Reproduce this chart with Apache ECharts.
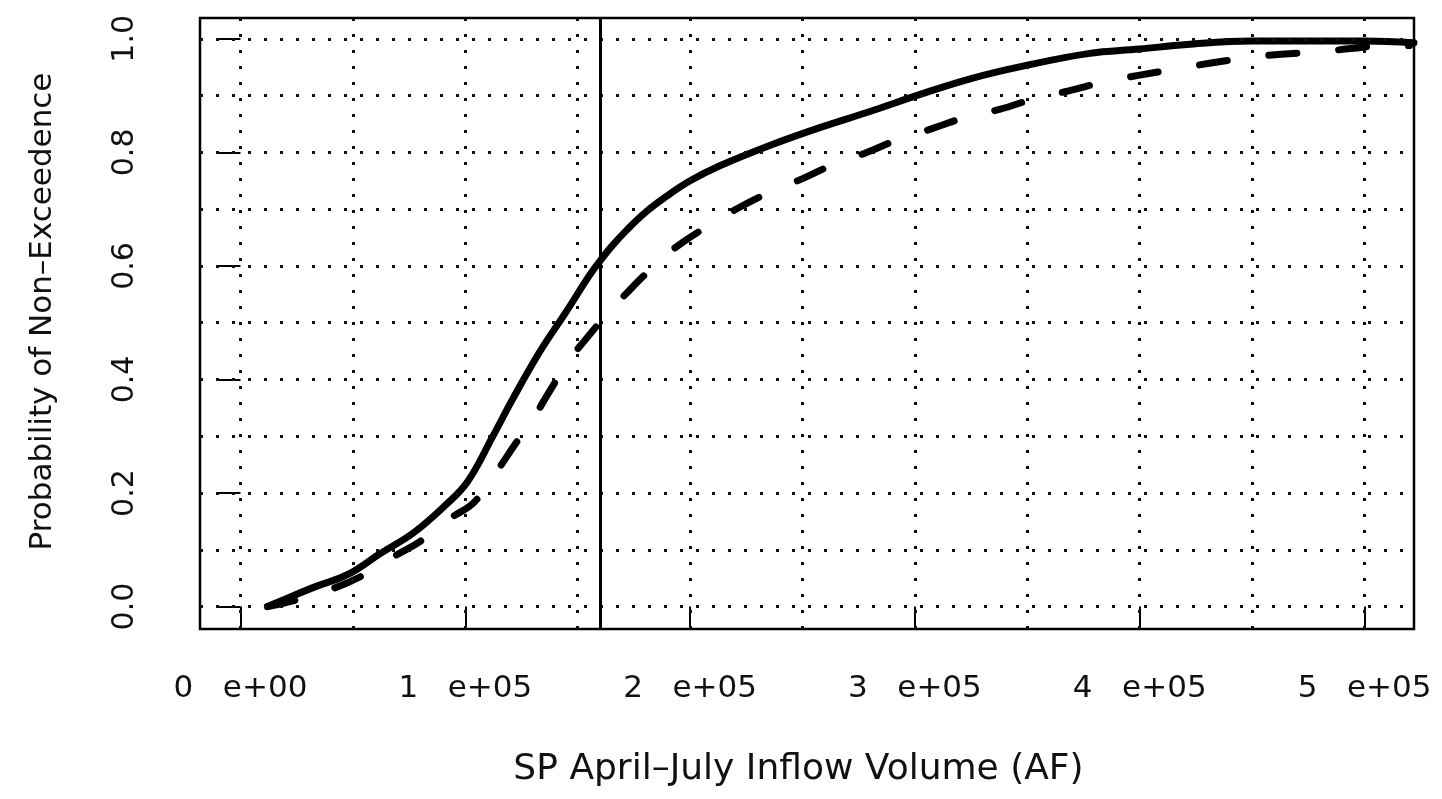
<!DOCTYPE html>
<html>
<head>
<meta charset="utf-8">
<title>SP April-July Inflow Volume</title>
<script src="https://cdn.jsdelivr.net/npm/echarts@6/dist/echarts.min.js"></script>
<style>
  html, body { margin: 0; padding: 0; background: #fff; }
  #main { width: 1442px; height: 799px; }
</style>
</head>
<body>
<div id="main"></div>
<script>
// tick positions and their labels
var xTicks = [0, 100000, 200000, 300000, 400000, 500000];
var xTickLabels = ['0   e+00', '1   e+05', '2   e+05', '3   e+05', '4   e+05', '5   e+05'];
var yTicks = [0, 0.2, 0.4, 0.6, 0.8, 1.0];
var yTickLabels = ['0.0', '0.2', '0.4', '0.6', '0.8', '1.0'];

// dotted reference grid
var xGrid = [0, 50000, 100000, 150000, 200000, 250000, 300000, 350000, 400000, 450000, 500000];
var yGrid = [0, 0.1, 0.2, 0.3, 0.4, 0.5, 0.6, 0.7, 0.8, 0.9, 1.0];

// vertical marker
var threshold = 160000;

// solid curve
var solidX = [12000, 24000, 34000, 48000, 62000, 77000, 91000, 101000, 112000, 121000, 133000, 145000,
              155000, 160000, 165000, 172000, 180000, 190000, 200000, 213000, 236000, 258000, 280000,
              303000, 325000, 347000, 377000, 400000, 421000, 450000, 500000, 522000];
var solidY = [0.0, 0.02, 0.036, 0.057, 0.093, 0.13, 0.178, 0.22, 0.298, 0.365, 0.448, 0.52,
              0.582, 0.609, 0.634, 0.664, 0.694, 0.724, 0.75, 0.776, 0.813, 0.844, 0.872,
              0.903, 0.93, 0.951, 0.974, 0.982, 0.99, 0.996, 0.996, 0.993];

// dashed curve
var dashX = [12000, 25000, 42000, 54000, 69000, 80000, 94000, 104000, 114500, 122000, 130000, 137000,
             146000, 153000, 163000, 172000, 184000, 194000, 209000, 220000, 236000, 249000, 265000,
             278000, 294000, 307000, 325000, 338000, 355000, 368000, 385000, 400000, 416000, 431000,
             448000, 463000, 480000, 494000, 512000, 520000];
var dashY = [0.0, 0.012, 0.033, 0.054, 0.09, 0.115, 0.157, 0.184, 0.241, 0.285, 0.33, 0.376,
             0.433, 0.468, 0.515, 0.553, 0.6, 0.634, 0.673, 0.699, 0.731, 0.752, 0.781,
             0.799, 0.825, 0.841, 0.865, 0.876, 0.897, 0.908, 0.925, 0.936, 0.947, 0.957,
             0.967, 0.973, 0.977, 0.983, 0.989, 0.988];

var font = 'DejaVu Sans';

function pick(ticks, labels, v) {
    for (var i = 0; i < ticks.length; i++) {
        if (Math.abs(ticks[i] - v) < 1e-6 * Math.max(1, Math.abs(v))) return labels[i];
    }
    return '';
}

function zip(xs, ys) {
    return xs.map(function (x, i) { return [x, ys[i]]; });
}

var chart = echarts.init(document.getElementById('main'));

var option = {
    animation: false,
    backgroundColor: '#fff',
    grid: {
        left: 200, right: 28, top: 18, bottom: 170,
        show: true, borderColor: '#000', borderWidth: 2.5
    },
    xAxis: {
        type: 'value',
        min: -18000,
        max: 522000,
        splitLine: { show: false },
        axisLine: { show: false },
        axisTick: { show: true, customValues: xTicks, length: 22, lineStyle: { color: '#000', width: 2 } },
        axisLabel: {
            customValues: xTicks,
            formatter: function (v) { return pick(xTicks, xTickLabels, v); },
            fontFamily: font, fontSize: 31, color: '#111', margin: 44
        },
        name: 'SP April–July Inflow Volume (AF)',
        nameLocation: 'middle',
        nameGap: 123,
        nameTextStyle: { fontFamily: font, fontSize: 36, color: '#111', padding: [0, 17, 0, 0] }
    },
    yAxis: {
        type: 'value',
        min: -0.0395,
        max: 1.0367,
        splitLine: { show: false },
        axisLine: { show: false },
        axisTick: { show: true, customValues: yTicks, length: 24, lineStyle: { color: '#000', width: 2 } },
        axisLabel: {
            customValues: yTicks,
            formatter: function (v) { return pick(yTicks, yTickLabels, v); },
            rotate: 90,
            fontFamily: font, fontSize: 30, color: '#111', margin: 60
        },
        name: 'Probability of Non–Exceedence',
        nameLocation: 'middle',
        nameRotate: 90,
        nameGap: 142,
        nameTextStyle: { fontFamily: font, fontSize: 31, color: '#111', padding: [0, 0, 0, 24] }
    },
    series: [
        {
            name: 'grid',
            type: 'line',
            data: [],
            silent: true,
            z: 1,
            markLine: {
                silent: true,
                symbol: ['none', 'none'],
                label: { show: false },
                lineStyle: { type: [3, 13], width: 3, color: '#111' },
                data: xGrid.map(function (v) { return { xAxis: v }; })
                    .concat(yGrid.map(function (v) { return { yAxis: v }; }))
            }
        },
        {
            name: 'threshold',
            type: 'line',
            data: [],
            silent: true,
            z: 2,
            markLine: {
                silent: true,
                symbol: ['none', 'none'],
                label: { show: false },
                lineStyle: { type: 'solid', width: 3, color: '#000' },
                data: [{ xAxis: threshold }]
            }
        },
        {
            name: 'solid',
            type: 'line',
            data: zip(solidX, solidY),
            showSymbol: false,
            smooth: 0.4,
            z: 3,
            lineStyle: { color: '#000', width: 7, cap: 'round', join: 'round' }
        },
        {
            name: 'dashed',
            type: 'line',
            data: zip(dashX, dashY),
            showSymbol: false,
            smooth: 0.4,
            z: 3,
            lineStyle: { color: '#000', width: 7, type: [28, 42], cap: 'round', join: 'round' }
        }
    ]
};

chart.setOption(option);
</script>
</body>
</html>
